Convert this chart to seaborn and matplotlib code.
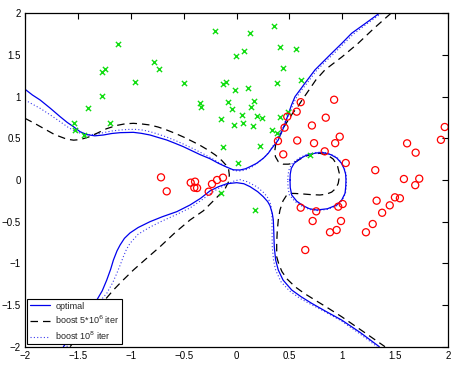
# Decision boundaries: optimal vs boosting, two-class toy data
import numpy as np
import pandas as pd
import matplotlib
matplotlib.use("Agg")
import matplotlib.pyplot as plt
from matplotlib.lines import Line2D
import seaborn as sns

# class 1 points (green x)
green_x = [-1.536, -1.529, -1.444, -1.406, -1.271, -1.246, -1.271, -1.195, -1.123, -0.956,
           -0.777, -0.729, -0.499, -0.345, -0.336, -0.200, -0.130, -0.102, -0.083, -0.147,
           -0.130, -0.017, -0.002, 0.074, 0.130, 0.112, 0.168, -0.043, 0.140, 0.050,
           0.197, 0.244, 0.352, 0.408, 0.560, 0.440, 0.380, 0.612, 0.411, 0.490,
           -0.021, 0.064, 0.156, 0.338, 0.380, 0.222, 0.014, 0.692, -0.144, 0.175]
green_y = [0.684, 0.600, 0.540, 0.864, 1.297, 1.329, 1.008, 0.688, 1.636, 1.176,
           1.417, 1.336, 1.160, 0.920, 0.872, 1.789, 1.152, 1.176, 0.932, 0.728,
           0.400, 1.084, 1.492, 1.552, 1.768, 1.104, 0.948, 0.852, 0.876, 0.780,
           0.768, 0.748, 1.852, 1.593, 1.576, 1.348, 1.164, 1.200, 0.760, 0.820,
           0.664, 0.680, 0.652, 0.600, 0.560, 0.412, 0.204, 0.296, -0.156, -0.354]

# class 2 points (red o)
red_x = [-0.714, -0.660, -0.433, -0.392, -0.399, -0.373, -0.232, -0.184, -0.128, -0.263,
         0.607, 0.923, 0.569, 0.480, 0.844, 0.713, 0.454, 0.976, 0.392, 0.574,
         0.733, 0.933, 0.442, 0.834, 1.033, 1.312, 1.613, 1.694, 1.969, 1.933,
         1.583, 1.728, 1.690, 0.607, 0.754, 0.720, 0.962, 1.004, 0.988, 0.884,
         0.947, 0.650, 1.325, 1.449, 1.498, 1.545, 1.377, 1.288, 1.224]
red_y = [0.032, -0.136, -0.032, -0.020, -0.092, -0.096, -0.048, 0.000, 0.028, -0.140,
         0.934, 0.963, 0.820, 0.760, 0.748, 0.654, 0.628, 0.520, 0.468, 0.474,
         0.442, 0.442, 0.308, 0.344, 0.204, 0.118, 0.440, 0.328, 0.636, 0.482,
         0.012, 0.016, -0.062, -0.332, -0.376, -0.492, -0.320, -0.288, -0.492, -0.627,
         -0.600, -0.840, -0.248, -0.304, -0.208, -0.219, -0.393, -0.528, -0.627]

# optimal boundary (blue solid)
opt_up_x = [-2.0, -1.93, -1.857, -1.76, -1.668, -1.60, -1.542, -1.48, -1.416, -1.34,
            -1.259, -1.18, -1.101, -0.975, -0.90, -0.818, -0.74, -0.660, -0.58, -0.503,
            -0.42, -0.345, -0.250, -0.17, -0.093, -0.030, 0.033, 0.085, 0.128, 0.19,
            0.253, 0.30, 0.333, 0.365, 0.395, 0.442, 0.490, 0.520, 0.553, 0.60,
            0.647, 0.742, 0.82, 0.900, 1.00, 1.089, 1.22, 1.350]
opt_up_y = [1.089, 1.02, 0.960, 0.86, 0.760, 0.69, 0.640, 0.58, 0.545, 0.53,
            0.540, 0.558, 0.568, 0.572, 0.56, 0.540, 0.51, 0.480, 0.44, 0.400,
            0.35, 0.305, 0.255, 0.20, 0.155, 0.122, 0.120, 0.135, 0.160, 0.20,
            0.260, 0.32, 0.380, 0.43, 0.480, 0.620, 0.790, 0.90, 1.000, 1.08,
            1.161, 1.321, 1.42, 1.521, 1.645, 1.761, 1.88, 2.000]
opt_lo_x = [-1.637, -1.55, -1.45, -1.38, -1.321, -1.27, -1.227, -1.19, -1.164, -1.13,
            -1.101, -1.06, -1.007, -0.93, -0.818, -0.70, -0.565, -0.44, -0.34, -0.25,
            -0.17, -0.093, 0.002, 0.07, 0.128, 0.20, 0.253, 0.295, 0.317, 0.338,
            0.348, 0.352, 0.357, 0.37, 0.395, 0.44, 0.522, 0.61, 0.711, 0.85,
            0.994, 1.17, 1.350]
opt_lo_y = [-2.000, -1.85, -1.66, -1.53, -1.440, -1.33, -1.200, -1.07, -0.960, -0.85,
            -0.780, -0.70, -0.635, -0.57, -0.500, -0.44, -0.380, -0.30, -0.22, -0.13,
            -0.08, -0.045, -0.032, -0.045, -0.080, -0.14, -0.200, -0.26, -0.310, -0.40,
            -0.480, -0.60, -0.800, -0.96, -1.080, -1.20, -1.320, -1.40, -1.480, -1.58,
            -1.680, -1.83, -2.000]
opt_ring_x = [0.506, 0.508, 0.518, 0.545, 0.600, 0.650, 0.695, 0.760, 0.821, 0.890,
              0.947, 0.990, 1.016, 1.032, 1.035, 1.033, 1.026, 0.995, 0.947, 0.860,
              0.758, 0.690, 0.632, 0.570, 0.522, 0.508, 0.506]
opt_ring_y = [0.000, 0.070, 0.140, 0.200, 0.255, 0.290, 0.310, 0.325, 0.328, 0.305,
              0.265, 0.205, 0.140, 0.070, 0.000, -0.080, -0.160, -0.240, -0.300, -0.345,
              -0.360, -0.345, -0.310, -0.255, -0.180, -0.090, 0.000]

# boosting 5*10^6 iterations (black dashed)
b6_left_x = [-2.0, -1.91, -1.826, -1.72, -1.605, -1.54, -1.479, -1.40, -1.321, -1.23,
             -1.132, -1.05, -0.975, -0.90, -0.818, -0.740, -0.660, -0.580, -0.500, -0.420,
             -0.350, -0.270, -0.200, -0.140, -0.100, -0.075, -0.068, -0.075, -0.110, -0.187,
             -0.314, -0.440, -0.580, -0.723, -0.850, -0.975, -1.080, -1.164, -1.259, -1.420,
             -1.573]
b6_left_y = [0.740, 0.68, 0.620, 0.545, 0.490, 0.478, 0.485, 0.515, 0.560, 0.615,
             0.655, 0.675, 0.680, 0.673, 0.660, 0.635, 0.600, 0.560, 0.515, 0.465,
             0.420, 0.360, 0.300, 0.235, 0.180, 0.130, 0.060, -0.020, -0.110, -0.210,
             -0.370, -0.480, -0.630, -0.800, -0.940, -1.080, -1.210, -1.320, -1.460, -1.730,
             -2.000]
b6_right_x = [1.460, 1.30, 1.151, 1.00, 0.836, 0.75, 0.680, 0.620, 0.580, 0.530,
              0.490, 0.450, 0.420, 0.390, 0.370, 0.362, 0.368, 0.395, 0.442, 0.490,
              0.537, 0.600, 0.663, 0.730, 0.789, 0.860, 0.915, 0.955, 0.972, 0.970,
              0.962, 0.940, 0.900, 0.850, 0.789, 0.700, 0.632, 0.560, 0.506, 0.470,
              0.440, 0.411, 0.395, 0.385, 0.380, 0.380, 0.400, 0.430, 0.480, 0.553,
              0.640, 0.742, 0.870, 0.994, 1.20, 1.404]
b6_right_y = [2.000, 1.82, 1.641, 1.48, 1.321, 1.20, 1.070, 0.960, 0.880, 0.800,
              0.720, 0.640, 0.560, 0.490, 0.420, 0.350, 0.280, 0.220, 0.190, 0.190,
              0.200, 0.250, 0.290, 0.315, 0.320, 0.300, 0.250, 0.170, 0.080, 0.020,
              -0.040, -0.100, -0.145, -0.170, -0.180, -0.175, -0.168, -0.162, -0.160, -0.190,
              -0.250, -0.360, -0.480, -0.620, -0.760, -0.920, -1.010, -1.100, -1.190, -1.280,
              -1.360, -1.440, -1.540, -1.640, -1.82, -2.000]

# boosting 10^8 iterations (blue dotted)
b8_up_x = [-2.0, -1.93, -1.857, -1.76, -1.668, -1.59, -1.51, -1.416, -1.34, -1.259,
           -1.18, -1.101, -1.02, -0.943, -0.88, -0.818, -0.74, -0.660, -0.58, -0.500,
           -0.40, -0.300, -0.220, -0.150, -0.080, -0.030, 0.010, 0.050, 0.100, 0.150,
           0.210, 0.270, 0.315, 0.350, 0.385, 0.420, 0.460, 0.500, 0.530, 0.560,
           0.610, 0.660, 0.755, 0.840, 0.915, 1.010, 1.105, 1.240, 1.370]
b8_up_y = [0.960, 0.91, 0.860, 0.78, 0.700, 0.63, 0.575, 0.540, 0.548, 0.568,
           0.588, 0.600, 0.607, 0.607, 0.598, 0.580, 0.55, 0.515, 0.475, 0.430,
           0.37, 0.305, 0.250, 0.195, 0.145, 0.118, 0.108, 0.110, 0.128, 0.160,
           0.215, 0.280, 0.350, 0.420, 0.500, 0.600, 0.700, 0.790, 0.890, 0.975,
           1.070, 1.150, 1.310, 1.420, 1.510, 1.630, 1.750, 1.880, 2.000]
b8_lo_x = [-1.605, -1.50, -1.40, -1.31, -1.227, -1.17, -1.132, -1.10, -1.070, -1.04,
           -1.007, -0.93, -0.818, -0.70, -0.560, -0.440, -0.340, -0.250, -0.170, -0.090,
           -0.02, 0.033, 0.10, 0.191, 0.260, 0.300, 0.325, 0.335, 0.336, 0.338,
           0.350, 0.370, 0.420, 0.500, 0.600, 0.700, 0.850, 0.990, 1.160, 1.330]
b8_lo_y = [-2.000, -1.80, -1.62, -1.48, -1.360, -1.23, -1.120, -1.02, -0.920, -0.83,
           -0.760, -0.65, -0.565, -0.49, -0.410, -0.335, -0.250, -0.165, -0.100, -0.055,
           -0.010, 0.004, -0.020, -0.080, -0.155, -0.220, -0.300, -0.400, -0.600, -0.800,
           -0.960, -1.080, -1.220, -1.330, -1.420, -1.490, -1.590, -1.690, -1.840, -2.000]
b8_ring_x = [0.485, 0.488, 0.500, 0.530, 0.590, 0.645, 0.695, 0.760, 0.821, 0.890,
             0.950, 0.994, 1.020, 1.037, 1.040, 1.038, 1.030, 0.998, 0.950, 0.860,
             0.758, 0.685, 0.620, 0.555, 0.500, 0.487, 0.485]
b8_ring_y = [0.000, 0.070, 0.140, 0.205, 0.262, 0.297, 0.318, 0.332, 0.335, 0.312,
             0.272, 0.210, 0.140, 0.070, 0.000, -0.080, -0.160, -0.245, -0.308, -0.352,
             -0.368, -0.352, -0.315, -0.260, -0.180, -0.090, 0.000]

ticks = [-2, -1.5, -1, -0.5, 0, 0.5, 1, 1.5, 2]
tick_labels = ['\u22122', '\u22121.5', '\u22121', '\u22120.5', '0', '0.5', '1', '1.5', '2']

sns.set_style("white")
plt.rcParams['font.family'] = ['Liberation Sans', 'DejaVu Sans']

fig = plt.figure(figsize=(4.54, 3.70), dpi=100)
ax = fig.add_axes([0.0551, 0.063, 0.9317, 0.901])

# boundary curves
blue_kw = dict(color='#0000ee', linewidth=0.9, solid_joinstyle='round')
dash_kw = dict(color='black', linewidth=0.9, linestyle=(0, (6, 4)))
dot_kw = dict(color='#3a3aee', linewidth=0.8, linestyle=(0, (1, 2)))

for xs, ys in [(b8_up_x, b8_up_y), (b8_lo_x, b8_lo_y), (b8_ring_x, b8_ring_y)]:
    sns.lineplot(x=xs, y=ys, sort=False, estimator=None, ax=ax, **dot_kw)
for xs, ys in [(b6_left_x, b6_left_y), (b6_right_x, b6_right_y)]:
    sns.lineplot(x=xs, y=ys, sort=False, estimator=None, ax=ax, **dash_kw)
for xs, ys in [(opt_up_x, opt_up_y), (opt_lo_x, opt_lo_y), (opt_ring_x, opt_ring_y)]:
    sns.lineplot(x=xs, y=ys, sort=False, estimator=None, ax=ax, **blue_kw)

# data points
sns.scatterplot(x=green_x, y=green_y, marker='x', color='#11dd11', s=14,
                linewidth=1.0, ax=ax, zorder=3)
sns.scatterplot(x=red_x, y=red_y, marker='o', facecolor='none', edgecolor='red',
                s=26, linewidth=0.9, ax=ax, zorder=3)

ax.set_xlim(-2, 2)
ax.set_ylim(-2, 2)
ax.set_xticks(ticks)
ax.set_yticks(ticks)
ax.set_xticklabels(tick_labels)
ax.set_yticklabels(tick_labels)
ax.tick_params(direction='in', length=4, width=0.8, labelsize=7,
               top=True, right=True, pad=3, colors='black')
for sp in ax.spines.values():
    sp.set_color('black')
    sp.set_linewidth(0.9)

handles = [Line2D([], [], **blue_kw), Line2D([], [], **dash_kw), Line2D([], [], **dot_kw)]
labels = ['optimal', r'boost 5*10$^6$ iter', r'boost 10$^8$ iter']
leg = ax.legend(handles, labels, loc='lower left', fontsize=6.5, handlelength=2.2,
                frameon=True, fancybox=False, edgecolor='black', framealpha=1,
                borderpad=0.3, labelspacing=0.35, handletextpad=0.6,
                borderaxespad=0.25)
leg.get_frame().set_linewidth(0.8)

fig.savefig('out.png', dpi=100)
